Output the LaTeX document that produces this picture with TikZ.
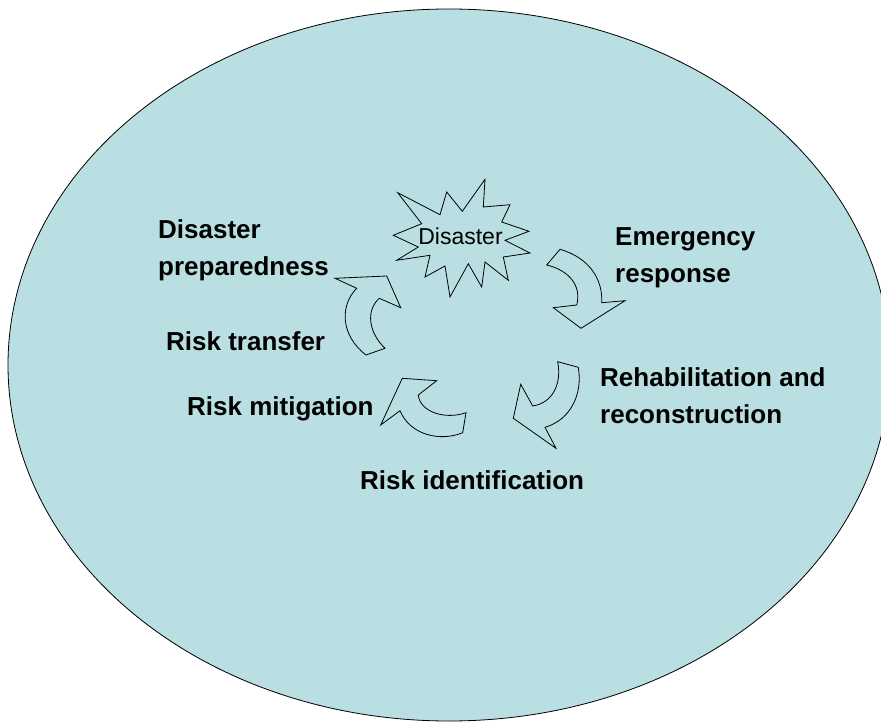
\documentclass[tikz,border=0pt]{standalone}
\usepackage{fontspec}
\setmainfont{Liberation Sans}
\definecolor{ellfill}{RGB}{185,223,227}
\begin{document}
\begin{tikzpicture}[x=1pt,y=-1pt,
  lbl/.style={font=\fontsize{26}{37}\selectfont\bfseries, inner sep=0pt, anchor=base west, align=left},
  shp/.style={draw=black, line width=0.8pt, fill=ellfill, line join=miter}]
\useasboundingbox (0,0) rectangle (881,722);
\clip (0,0) rectangle (881,722);
\fill[white] (0,0) rectangle (881,722);
% background ellipse
\draw[fill=ellfill, line width=0.8pt] (449,365) ellipse [x radius=441, y radius=356];
% starburst
\draw[shp] (397.7,192.7) -- (440,214.7) -- (446.7,192) -- (462.3,211.3) -- (485,179.3)
  -- (483.3,207) -- (510,204.7) -- (501.7,222) -- (529,231.3) -- (505,240.3)
  -- (530,253) -- (503.3,257) -- (508.3,280.3) -- (485,262) -- (481.7,287)
  -- (468.3,263.7) -- (450,297) -- (445,266) -- (425,277) -- (430,255.3)
  -- (396.7,260.3) -- (418.3,247) -- (393.3,235.3) -- (421.7,223.7) -- cycle;
\node[font=\fontsize{23}{26}\selectfont, inner sep=0pt] (dis) at (460.5,236) {Disaster};
% curved arrow 1 (towards emergency response)
\draw[shp] (546.7,265) -- (560,249.3) .. controls (590,258) and (603,280) .. (601.7,302.7)
  -- (625,300.7) -- (581,328.3) -- (553.3,307.7) -- (576.7,305)
  .. controls (582,285) and (568,270) .. cycle;
% curved arrow 2 (towards rehabilitation)
\draw[shp] (557.7,361.7) -- (578.3,367.3) .. controls (583,395) and (570,420) .. (545,427.3)
  -- (556,448.3) -- (513.3,418.3) -- (520.7,384.3) -- (532.7,406)
  .. controls (552,403) and (562,385) .. cycle;
% curved arrow 3 (towards risk mitigation)
\draw[shp] (466,412.7) -- (462.7,432.7) .. controls (440,442) and (410,435) .. (400,410.7)
  -- (380.7,425) -- (402.3,378.3) -- (436.7,380.7) -- (418.3,395)
  .. controls (420,412) and (445,420) .. cycle;
% curved arrow 4 (towards disaster preparedness)
\draw[shp] (366,355) -- (385,348.3) .. controls (368,332) and (366,310) .. (379.3,298.3)
  -- (400.7,307.7) -- (386.7,276) -- (335,278.3) -- (356.7,288.3)
  .. controls (340,305) and (340,335) .. cycle;
% labels (base anchor = baseline of the last line)
\node[lbl] (prep) at (158,275.5) {Disaster\\preparedness};
\node[lbl] (emer) at (615,283) {Emergency\\response};
\node[lbl] (rehab) at (600,423) {Rehabilitation and\\reconstruction};
\node[lbl] (trans) at (166,350.7) {Risk transfer};
\node[lbl] (mitig) at (187,415) {Risk mitigation};
\node[lbl] (ident) at (360,489) {Risk identification};
\end{tikzpicture}
\end{document}
